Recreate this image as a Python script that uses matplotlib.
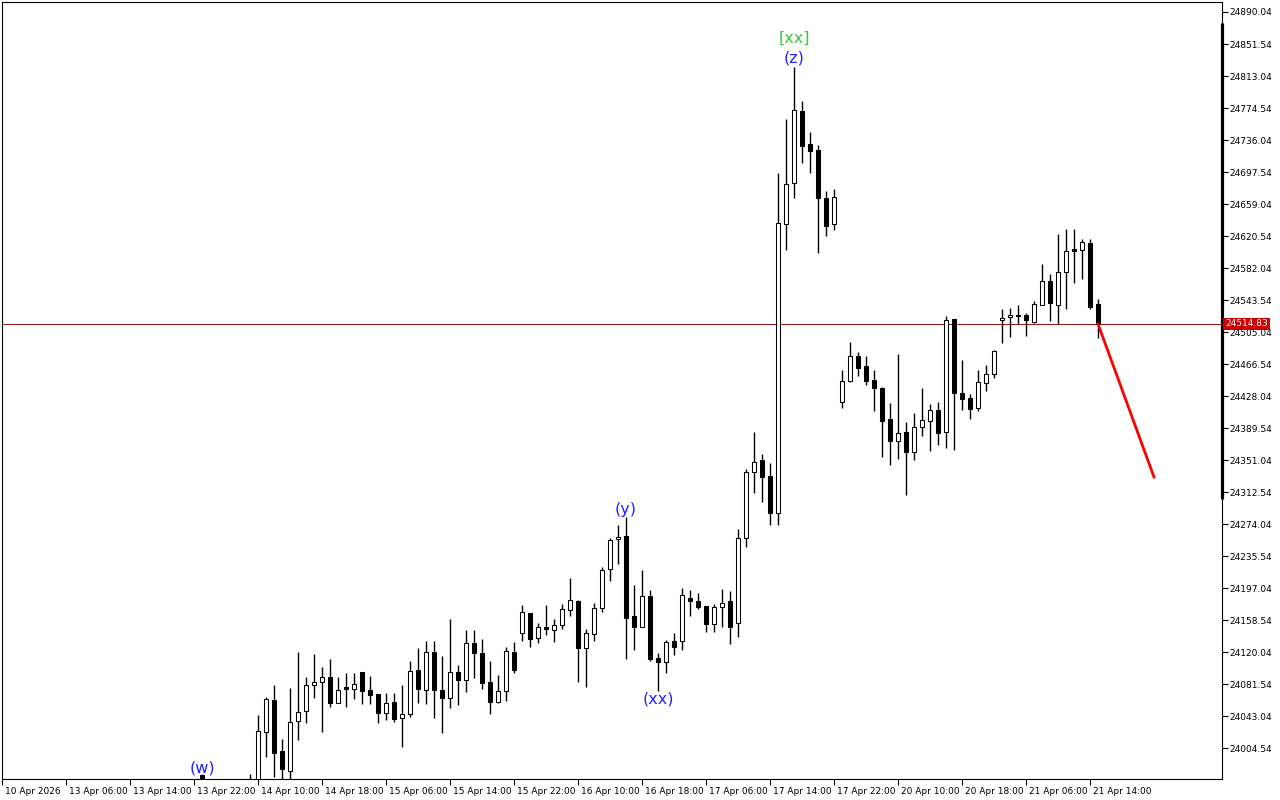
import matplotlib
matplotlib.use('Agg')
import matplotlib.pyplot as plt
from matplotlib import transforms

# H1 bars, bar 0 = 10 Apr 2026 at the left edge of the chart
first_bar = 31
opens = [23950.0, 23960.0, 24024.2, 24062.3, 24001.0, 23976.9, 24037.0, 24049.1, 24080.4, 24084.0,
         24090.0, 24058.7, 24078.0, 24075.5, 24096.0, 24074.3, 24069.5, 24046.7, 24059.9, 24040.6,
         24045.5, 24098.4, 24074.3, 24120.1, 24074.3, 24064.7, 24096.0, 24086.4, 24130.9, 24118.9,
         24084.0, 24059.9, 24073.1, 24120.1, 24142.9, 24167.0, 24136.9, 24150.1, 24146.5, 24152.6,
         24170.6, 24181.4, 24124.9, 24141.7, 24173.0, 24219.9, 24256.0, 24259.6, 24163.4, 24150.1,
         24187.4, 24112.8, 24108.0, 24133.3, 24133.3, 24185.0, 24181.4, 24175.4, 24153.8, 24174.2,
         24181.4, 24155.0, 24257.2, 24337.0, 24351.1, 24331.8, 24287.3, 24635.0, 24684.3, 24770.9,
         24731.2, 24724.0, 24666.3, 24635.0, 24420.8, 24446.1, 24476.2, 24464.1, 24447.3, 24437.7,
         24400.4, 24373.9, 24384.7, 24360.7, 24390.8, 24398.0, 24411.2, 24384.7, 24520.7, 24431.7,
         24425.6, 24413.6, 24443.7, 24454.5, 24519.5, 24523.1, 24525.5, 24525.5, 24517.1, 24537.5,
         24566.4, 24537.5, 24577.2, 24604.9, 24603.7, 24612.1, 24538.7]
highs = [23973.3, 24044.3, 24066.3, 24080.4, 24015.4, 24076.8, 24120.1, 24090.0, 24117.7, 24102.0,
         24111.6, 24090.0, 24094.8, 24094.8, 24096.0, 24091.2, 24069.5, 24070.7, 24070.7, 24080.4,
         24109.2, 24124.9, 24133.3, 24133.3, 24115.3, 24159.8, 24104.4, 24146.5, 24146.5, 24135.7,
         24109.2, 24092.4, 24126.1, 24132.1, 24176.6, 24167.0, 24155.0, 24176.6, 24159.8, 24177.8,
         24209.1, 24182.6, 24147.7, 24179.0, 24222.3, 24257.2, 24272.9, 24282.5, 24200.7, 24218.7,
         24194.7, 24118.9, 24134.5, 24142.9, 24197.1, 24194.7, 24191.1, 24175.4, 24177.8, 24195.9,
         24193.5, 24268.0, 24340.2, 24384.7, 24358.3, 24347.4, 24696.3, 24761.3, 24824.2, 24782.9,
         24745.7, 24730.0, 24674.7, 24677.1, 24459.3, 24493.0, 24481.0, 24476.2, 24459.3, 24438.9,
         24419.6, 24478.6, 24396.8, 24407.6, 24437.7, 24418.4, 24420.8, 24524.3, 24520.7, 24471.4,
         24430.5, 24459.3, 24465.3, 24483.4, 24532.7, 24533.9, 24537.5, 24527.9, 24542.3, 24586.9,
         24574.8, 24622.9, 24628.9, 24628.9, 24617.0, 24617.0, 24544.8]
lows = [23930.0, 23950.0, 23994.1, 23969.7, 23966.0, 23966.0, 24014.2, 24034.6, 24065.1, 24024.2,
        24053.9, 24058.7, 24053.9, 24063.5, 24057.5, 24057.5, 24034.6, 24038.2, 24035.8, 24005.8,
        24041.8, 24058.7, 24057.5, 24040.6, 24022.6, 24052.7, 24056.3, 24071.9, 24088.8, 24075.5,
        24045.5, 24058.7, 24061.5, 24094.8, 24133.3, 24126.1, 24130.9, 24140.5, 24132.1, 24147.7,
        24163.4, 24084.0, 24078.0, 24133.3, 24168.2, 24205.5, 24225.9, 24111.6, 24122.5, 24150.1,
        24109.2, 24073.1, 24094.8, 24116.4, 24122.5, 24163.4, 24171.8, 24144.1, 24144.1, 24150.1,
        24129.7, 24138.1, 24246.4, 24311.3, 24300.9, 24272.9, 24272.9, 24603.7, 24666.3, 24708.4,
        24696.3, 24600.1, 24620.5, 24627.8, 24413.6, 24444.9, 24452.1, 24441.3, 24410.0, 24354.7,
        24345.0, 24352.3, 24308.9, 24351.1, 24379.9, 24361.9, 24369.1, 24365.5, 24363.1, 24411.2,
        24400.4, 24410.0, 24434.1, 24449.7, 24491.8, 24499.0, 24514.7, 24500.2, 24515.9, 24537.5,
        24518.3, 24514.7, 24532.7, 24564.0, 24568.8, 24532.7, 24497.8]
closes = [23960.0, 24025.0, 24063.1, 23998.9, 23978.9, 24035.5, 24048.2, 24080.4, 24084.0, 24090.0,
          24058.7, 24074.3, 24075.5, 24081.6, 24073.1, 24068.3, 24046.7, 24058.7, 24039.4, 24045.5,
          24097.2, 24075.5, 24120.1, 24074.3, 24064.7, 24096.0, 24086.4, 24130.9, 24118.9, 24082.8,
          24059.9, 24073.1, 24121.3, 24098.4, 24168.2, 24135.7, 24150.1, 24147.7, 24152.6, 24171.8,
          24182.6, 24124.9, 24142.9, 24173.0, 24218.7, 24254.8, 24258.4, 24161.0, 24150.1, 24187.4,
          24111.6, 24108.0, 24132.1, 24126.1, 24188.6, 24181.4, 24174.2, 24153.8, 24174.2, 24179.0,
          24150.1, 24257.2, 24337.0, 24349.0, 24330.9, 24287.3, 24636.2, 24683.1, 24772.1, 24728.8,
          24722.8, 24666.3, 24632.6, 24667.5, 24446.1, 24476.2, 24461.7, 24446.1, 24437.7, 24398.0,
          24373.9, 24383.5, 24360.7, 24390.8, 24399.2, 24411.2, 24383.5, 24519.5, 24431.7, 24424.4,
          24412.4, 24444.9, 24454.5, 24482.2, 24521.9, 24525.5, 24524.3, 24519.5, 24538.7, 24566.4,
          24539.9, 24577.2, 24602.5, 24602.5, 24613.3, 24535.1, 24514.83]

# the (w) bar, mostly below the visible range
w_bar = 25
w_ohlc = [23972.1, 23973.3, 23940.0, 23955.0]

last_price = 24514.83

wave_labels = ['(w)', '(y)', '(xx)', '(z)']
wave_bars = [25, 78, 82, 99]
wave_prices = [23980.5, 24292.1, 24063.5, 24834.7]
degree_label = '[xx]'
degree_price = 24858.8

forecast_bars = [137, 144]
forecast_prices = [24514.83, 24330.6]

time_ticks = [0, 8, 16, 24, 32, 40, 48, 56, 64, 72, 80, 88, 96, 104, 112, 120, 128, 136]
time_labels = ['10 Apr 2026', '13 Apr 06:00', '13 Apr 14:00', '13 Apr 22:00', '14 Apr 10:00',
               '14 Apr 18:00', '15 Apr 06:00', '15 Apr 14:00', '15 Apr 22:00', '16 Apr 10:00',
               '16 Apr 18:00', '17 Apr 06:00', '17 Apr 14:00', '17 Apr 22:00', '20 Apr 10:00',
               '20 Apr 18:00', '21 Apr 06:00', '21 Apr 14:00']
price_ticks = [24004.54, 24043.04, 24081.54, 24120.04, 24158.54, 24197.04, 24235.54, 24274.04,
               24312.54, 24351.04, 24389.54, 24428.04, 24466.54, 24505.04, 24543.54, 24582.04,
               24620.54, 24659.04, 24697.54, 24736.04, 24774.54, 24813.04, 24851.54, 24890.04]

fig = plt.figure(figsize=(12.8, 8), dpi=100)
ax = fig.add_axes([2 / 1280, 21 / 800, 1220 / 1280, 777 / 800])

xs = [w_bar] + list(range(first_bar, first_bar + len(opens)))
o_all = [w_ohlc[0]] + opens
h_all = [w_ohlc[1]] + highs
l_all = [w_ohlc[2]] + lows
c_all = [w_ohlc[3]] + closes

ax.vlines(xs, l_all, h_all, color='black', lw=1.0, zorder=2)
bottoms = [min(o, c) for o, c in zip(o_all, c_all)]
heights = [max(abs(c - o), 1.2) for o, c in zip(o_all, c_all)]
faces = ['white' if c >= o else 'black' for o, c in zip(o_all, c_all)]
ax.bar(xs, heights, bottom=bottoms, width=0.6, color=faces, edgecolor='black',
       linewidth=0.75, zorder=3)

# current price line
ax.axhline(last_price, color='#a01010', lw=0.7, zorder=1)

# forecast
ax.plot(forecast_bars, forecast_prices, color='#ff0000', lw=2.0, zorder=4)

# wave labels
for lab, b, p in zip(wave_labels, wave_bars, wave_prices):
    ax.text(b, p, lab, color='#2020ff', fontsize=11.5, ha='center', va='center', zorder=5)
ax.text(wave_bars[3], degree_price, degree_label, color='#33cc33', fontsize=11.5,
        ha='center', va='center', zorder=5)

ax.set_xlim(0, 152.5)
ax.set_ylim(23967.3, 24902.07)

ax.yaxis.tick_right()
ax.set_yticks(price_ticks)
ax.set_yticklabels(['%.2f' % p for p in price_ticks])
ax.set_xticks(time_ticks)
ax.set_xticklabels(time_labels)
ax.tick_params(axis='both', direction='out', length=4, width=0.8, labelsize=6.5,
               colors='black', pad=1.5)
offset = transforms.ScaledTranslation(2 / 72, 0, fig.dpi_scale_trans)
for lbl in ax.get_xticklabels():
    lbl.set_ha('left')
    lbl.set_transform(lbl.get_transform() + offset)

for sp in ax.spines.values():
    sp.set_linewidth(0.8)
    sp.set_color('black')

# thick marker on the price scale
trans = transforms.blended_transform_factory(ax.transAxes, ax.transData)
ax.plot([1, 1], [24876.8, 24304.1], transform=trans, color='black', lw=2.3,
        clip_on=False, zorder=6, solid_capstyle='butt')

# last price tag
ax.text(1.0025, last_price, '%.2f' % last_price, transform=trans, color='white',
        fontsize=6.5, ha='left', va='center', zorder=7,
        bbox=dict(boxstyle='square,pad=0.2', facecolor='#cc0000', edgecolor='none'))

fig.savefig('out.png', dpi=100)
